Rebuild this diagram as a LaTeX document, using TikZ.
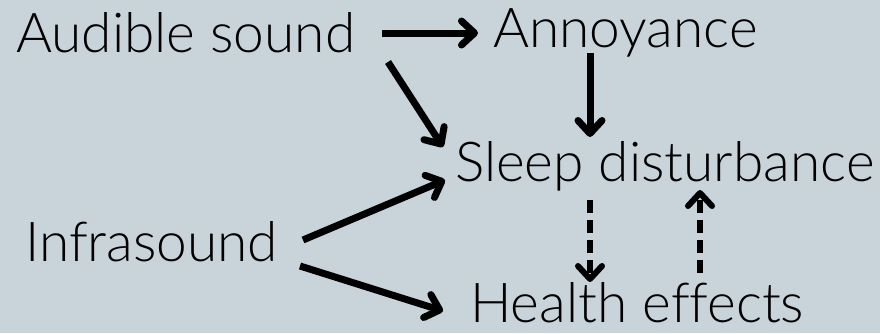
\documentclass[tikz,border=0pt]{standalone}
\usepackage{fontspec}
\setmainfont{Lato}[UprightFont=* Light, Ligatures=NoCommon]
\usetikzlibrary{arrows.meta}
\definecolor{bgblue}{RGB}{200,211,218}

\begin{document}
\begin{tikzpicture}[
        x=1pt, y=-1pt,
        label/.style={inner sep=0pt, anchor=base west, font=\fontsize{55}{60}\selectfont},
        arr/.style={line width=7pt, -{Straight Barb[round, length=13pt, width=24pt]}},
        dasharr/.style={arr, line width=6pt, dash pattern=on 13pt off 7pt}
    ]
        % 1. Background and fixed picture size
       \fill[bgblue] (0,0) rectangle (880,333);
       \useasboundingbox (0,0) rectangle (880,333);

       % 2. The five labels
       \node[label] (aud) at (16,52) {Audible sound};
       \node[label] (ann) at (493,47) {Annoyance};
       \node[label] (sleep) at (455,181) {Sleep disturbance};
       \node[label] (inf) at (25,261) {Infrasound};
       \node[label] (hea) at (470,322) {Health effects};

       % 3. Solid arrows
       \draw[arr] ([shift={(366,-19)}]aud.base west) -- ([shift={(-15,-14)}]ann.base west);
       \draw[arr] ([shift={(372,10)}]aud.base west) -- ([shift={(-12,-34)}]sleep.base west);
       \draw[arr] ([shift={(97,6)}]ann.base west) -- ([shift={(135,-44)}]sleep.base west);
       \draw[arr] ([shift={(278,-21)}]inf.base west) -- ([shift={(-10,-1)}]sleep.base west);
       \draw[arr] ([shift={(275,5)}]inf.base west) -- ([shift={(-27,-11)}]hea.base west);

       % 4. Dashed arrows between sleep and health
       \draw[dasharr] ([shift={(135,19)}]sleep.base west) -- ([shift={(120,-40)}]hea.base west);
       \draw[dasharr] ([shift={(230,-49)}]hea.base west) -- ([shift={(245,9)}]sleep.base west);

    \end{tikzpicture}
\end{document}
